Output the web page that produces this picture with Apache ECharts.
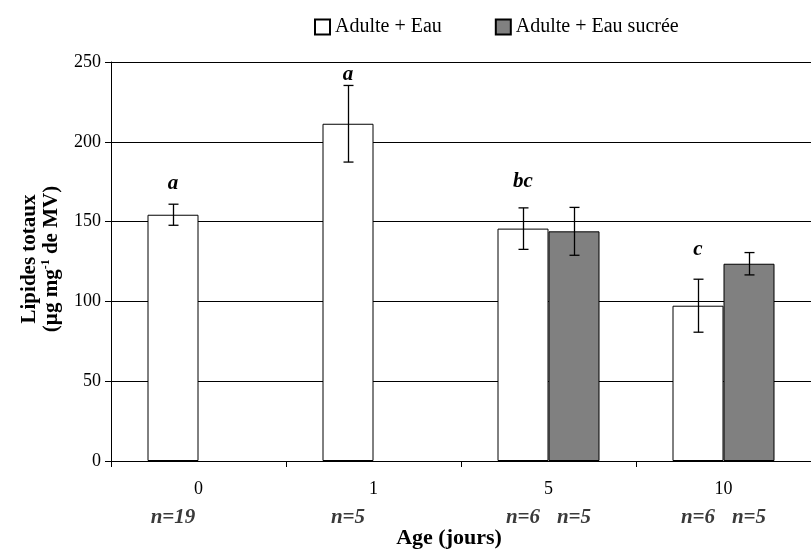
<!DOCTYPE html>
<html>
<head>
<meta charset="utf-8">
<script src="https://cdn.jsdelivr.net/npm/echarts@6/dist/echarts.min.js"></script>
<style>
  html, body { margin: 0; padding: 0; background: #ffffff; }
  #chart { width: 811px; height: 553px; }
</style>
</head>
<body>
<div id="chart"></div>
<script>
// Age groups (days)
const categories = ['0', '1', '5', '10'];

// Adulte + Eau: mean total lipids and standard error
const eauMeans = [154.3, 211.3, 145.6, 97.3];
const eauErrors = [6.6, 24.0, 13.0, 16.6];

// Adulte + Eau sucrée: only measured at days 5 and 10
const sucreeMeans = [null, null, 143.9, 123.6];
const sucreeErrors = [null, null, 15.0, 7.0];

// Statistical group letters (above the Eau bars) and sample sizes
const groupLetters = ['a', 'a', 'bc', 'c'];
const eauCounts = ['n=19', 'n=5', 'n=6', 'n=6'];
const sucreeCounts = [null, null, 'n=5', 'n=5'];

// Y axis ticks
const yTicks = [0, 50, 100, 150, 200, 250];

const SERIF = "'Liberation Serif', 'Times New Roman', serif";
const BAR_W = 51;
// pixel lift of each letter above its error bar top
const letterLift = [21, 11, 26, 30];

const chart = echarts.init(document.getElementById('chart'));

// error bar items: [category index, mean, error, side(-1 left / +1 right)]
const errorItems = [];
eauMeans.forEach((m, i) => { if (m != null) errorItems.push([i, m, eauErrors[i], -1]); });
sucreeMeans.forEach((m, i) => { if (m != null) errorItems.push([i, m, sucreeErrors[i], 1]); });

// n labels: [category index, side, text]
const countItems = [];
eauCounts.forEach((t, i) => { if (t) countItems.push([i, -1, t]); });
sucreeCounts.forEach((t, i) => { if (t) countItems.push([i, 1, t]); });

// letter items: [category index, mean + error, letter]
const letterItems = groupLetters.map((l, i) => [i, eauMeans[i] + eauErrors[i], l]);

function renderError(params, api) {
  const idx = api.value(0), mean = api.value(1), err = api.value(2), side = api.value(3);
  const c = api.coord([idx, mean]);
  const x = Math.round(c[0] + side * BAR_W / 2) + 0.5;
  const top = api.coord([idx, mean + err])[1];
  const bot = api.coord([idx, mean - err])[1];
  const cap = 5;
  const style = { stroke: '#000', lineWidth: 1.3 };
  return {
    type: 'group',
    children: [
      { type: 'line', shape: { x1: x, y1: top, x2: x, y2: bot }, style },
      { type: 'line', shape: { x1: x - cap, y1: top, x2: x + cap, y2: top }, style },
      { type: 'line', shape: { x1: x - cap, y1: bot, x2: x + cap, y2: bot }, style }
    ]
  };
}

function renderCount(params, api) {
  const idx = api.value(0), side = api.value(1);
  const base = api.coord([idx, 0]);
  const x = base[0] + side * BAR_W / 2;
  return {
    type: 'text',
    x: x,
    y: base[1] + 57,
    style: {
      text: countItems[params.dataIndex][2],
      font: 'italic bold 21px ' + SERIF,
      fill: '#3a3a3a',
      align: 'center',
      verticalAlign: 'middle'
    }
  };
}

function renderLetter(params, api) {
  const idx = api.value(0);
  const p = api.coord([idx, api.value(1)]);
  return {
    type: 'text',
    x: p[0] - BAR_W / 2,
    y: p[1] - letterLift[params.dataIndex],
    style: {
      text: letterItems[params.dataIndex][2],
      font: 'italic bold 21px ' + SERIF,
      fill: '#000',
      align: 'center',
      verticalAlign: 'middle'
    }
  };
}

const option = {
  animation: false,
  backgroundColor: '#ffffff',
  textStyle: { fontFamily: SERIF },
  legend: {
    left: 309,
    top: 12,
    itemWidth: 15,
    itemHeight: 15,
    itemGap: 53,
    icon: 'rect',
    textStyle: { fontFamily: SERIF, fontSize: 20, color: '#000' },
    data: ['Adulte + Eau', 'Adulte + Eau sucrée']
  },
  grid: { left: 111, right: -11, top: 62, bottom: 92, containLabel: false },
  xAxis: {
    type: 'category',
    data: categories,
    axisLine: { lineStyle: { color: '#000', width: 1 } },
    axisTick: { show: true, length: 6, alignWithLabel: false, lineStyle: { color: '#000' } },
    axisLabel: { fontFamily: SERIF, fontSize: 18, color: '#000', margin: 19 },
    splitLine: { show: false }
  },
  yAxis: {
    type: 'value',
    min: yTicks[0],
    max: yTicks[yTicks.length - 1],
    interval: yTicks[1] - yTicks[0],
    axisLine: { show: true, lineStyle: { color: '#000', width: 1 } },
    axisTick: { show: true, length: 6, lineStyle: { color: '#000' } },
    axisLabel: { fontFamily: SERIF, fontSize: 18, color: '#000', margin: 10 },
    splitLine: { show: true, lineStyle: { color: '#000', width: 1 } }
  },
  graphic: [
    {
      type: 'text',
      x: 41,
      y: 259,
      rotation: Math.PI / 2,
      style: {
        text: '{t|Lipides totaux}\n{t|(µg mg}{s|-1}{t| de MV)}',
        align: 'center',
        verticalAlign: 'middle',
        rich: {
          t: { font: 'bold 21px ' + SERIF, fill: '#000', lineHeight: 22 },
          s: { font: 'bold 12px ' + SERIF, fill: '#000', lineHeight: 22, padding: [0, 0, 12, 0] }
        }
      }
    },
    {
      type: 'text',
      x: 449,
      y: 538,
      style: {
        text: 'Age (jours)',
        font: 'bold 22px ' + SERIF,
        fill: '#000',
        align: 'center',
        verticalAlign: 'middle'
      }
    }
  ],
  series: [
    {
      name: 'Adulte + Eau',
      type: 'bar',
      data: eauMeans,
      barWidth: BAR_W,
      barGap: '0%',
      itemStyle: { color: '#ffffff', borderColor: '#000', borderWidth: 1 }
    },
    {
      name: 'Adulte + Eau sucrée',
      type: 'bar',
      data: sucreeMeans,
      barWidth: BAR_W,
      barGap: '0%',
      itemStyle: { color: '#808080', borderColor: '#000', borderWidth: 1 }
    },
    {
      type: 'custom',
      renderItem: renderError,
      data: errorItems,
      encode: { x: 0, y: 1 },
      z: 5,
      silent: true
    },
    {
      type: 'custom',
      renderItem: renderLetter,
      data: letterItems,
      encode: { x: 0, y: 1 },
      z: 5,
      silent: true
    },
    {
      type: 'custom',
      renderItem: renderCount,
      data: countItems.map(d => [d[0], d[1]]),
      encode: { x: 0 },
      clip: false,
      z: 5,
      silent: true
    }
  ]
};

chart.setOption(option);
</script>
</body>
</html>
